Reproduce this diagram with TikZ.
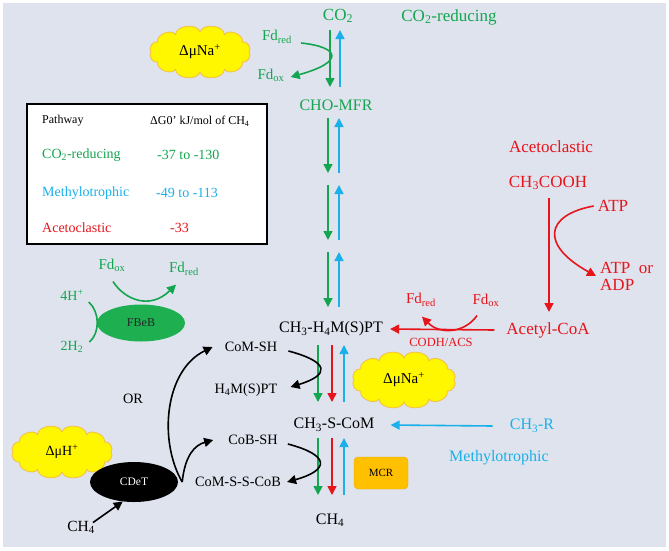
\documentclass[tikz,border=0pt]{standalone}
\usepackage{fontspec}
\setmainfont{Liberation Serif}
\usetikzlibrary{arrows.meta,shapes.geometric}
\definecolor{bgc}{HTML}{DFE3ED}
\definecolor{cg}{HTML}{14A550}
\definecolor{cb}{HTML}{1AB0EA}
\definecolor{cr}{HTML}{E8141B}
\definecolor{cyel}{HTML}{FFF700}
\definecolor{cedge}{HTML}{F2BE45}
\definecolor{fbg}{HTML}{1DAF50}
\definecolor{mcrc}{HTML}{FFC000}
\newcommand\fsz[1]{\fontsize{#1}{#1}\selectfont}
% cloud outline: centre x, centre y, half width, half height, puffs
\newcommand\mycloud[5]{%
  \filldraw[cloudfill] ({#1+#3},{#2})
    \foreach \k in {1,...,#5}{ to[bend left=80] ({#1+#3*cos(360*\k/#5)},{#2+#4*sin(360*\k/#5)}) } -- cycle;}
\begin{document}
\begin{tikzpicture}[x=1pt,y=-1pt,
  lbl/.style={inner sep=0pt},
  tip/.style={-{Triangle[length=9pt,width=9pt]}},
  ln/.style={line width=1.6pt},
  garr/.style={ln,tip,cg},
  barr/.style={ln,tip,cb},
  rarr/.style={ln,tip,cr},
  karr/.style={ln,tip,black},
  cloudfill/.style={fill=cyel, draw=cedge, line width=0.8pt}]
\useasboundingbox (0,0) rectangle (669,550);
\fill[white] (0,0) rectangle (669,550);
\fill[bgc] (3,3) rectangle (666,547);

% ---- top: CO2
\node[lbl,cg,font=\fsz{17}] (co2) at (338,16) {CO\textsubscript{2}};
\node[lbl,cg,font=\fsz{17}] (co2r) at (449,17) {CO\textsubscript{2}-reducing};
\mycloud{200}{52}{49}{20}{12}
\node[lbl,font=\fsz{15}] (na1) at (200,52) {ΔμNa\textsuperscript{+}};
\node[lbl,cg,font=\fsz{15}] (fdr1) at (277,37) {Fd\textsubscript{red}};
\node[lbl,cg,font=\fsz{15}] (fdo1) at (271,75) {Fd\textsubscript{ox}};
\node[lbl,cg,font=\fsz{16}] (cho) at (336,105) {CHO-MFR};

\coordinate (ga0) at (330,30); \coordinate (gb0) at (330,87);
\coordinate (ba0) at (340,87); \coordinate (bb0) at (340,30);
\draw[garr] (ga0) -- (gb0);
\draw[barr] (ba0) -- (bb0);
\draw[ln,tip,cg] ([shift={(9,6)}]fdr1.east) .. controls (340,47) and (345,62) .. ([shift={(6,2)}]fdo1.east);

\foreach \i/\ya/\yb in {1/118/173,2/185/240,3/252/307}{
  \coordinate (ga\i) at (328,\ya); \coordinate (gb\i) at (328,\yb);
  \coordinate (ba\i) at (339,\yb); \coordinate (bb\i) at (339,\ya);
  \draw[garr] (ga\i) -- (gb\i);
  \draw[barr] (ba\i) -- (bb\i);
}

% ---- table
\node[draw=black, line width=1.2pt, fill=white, minimum width=240pt, minimum height=140pt, inner sep=0pt] (tbl) at (147,174) {};
\node[lbl,anchor=west,font=\fsz{12}] (th1) at (42,121) {Pathway};
\node[lbl,anchor=west,font=\fsz{12}] (th2) at (150,121) {ΔG0’ kJ/mol of CH\textsubscript{4}};
\node[lbl,anchor=west,cg,font=\fsz{14}] (t11) at (42,155) {CO\textsubscript{2}-reducing};
\node[lbl,anchor=west,cg,font=\fsz{14}] (t12) at (157,155) {-37 to -130};
\node[lbl,anchor=west,cb,font=\fsz{14}] (t21) at (42,193) {Methylotrophic};
\node[lbl,anchor=west,cb,font=\fsz{14}] (t22) at (156,193) {-49 to -113};
\node[lbl,anchor=west,cr,font=\fsz{14}] (t31) at (42,228) {Acetoclastic};
\node[lbl,anchor=west,cr,font=\fsz{14}] (t32) at (170,228) {-33};

% ---- FBeB
\node[ellipse, fill=fbg, minimum width=88pt, minimum height=37pt, inner sep=0pt, font=\fsz{12}, text=black!85] (fbeb) at (141,323) {FBeB};
\node[lbl,cg,font=\fsz{14}] (h4) at (72,295) {4H\textsuperscript{+}};
\node[lbl,cg,font=\fsz{14}] (h2) at (72,347) {2H\textsubscript{2}};
\node[lbl,cg,font=\fsz{15}] (fdo2) at (112,265) {Fd\textsubscript{ox}};
\node[lbl,cg,font=\fsz{15}] (fdr2) at (184,269) {Fd\textsubscript{red}};
\draw[ln,cg] ([shift={(5,7)}]h4.east) .. controls (100,312) and (100,333) .. ([shift={(6,-5)}]h2.east);
\draw[ln,tip,cg] ([shift={(1,10)}]fdo2.south) .. controls (125,300) and (150,310) .. ([shift={(-8,9)}]fdr2.south);

% ---- acetoclastic
\node[lbl,cr,font=\fsz{17}] (acl) at (551,147) {Acetoclastic};
\node[lbl,cr,font=\fsz{17}] (ach) at (548,183) {CH\textsubscript{3}COOH};
\node[lbl,cr,font=\fsz{17}] (atp) at (613,206) {ATP};
\node[lbl,cr,font=\fsz{17},anchor=west,align=left] (adp) at (600,276) {\fontsize{17}{19}\selectfont ATP\ \ or\\ADP};
\node[lbl,cr,font=\fsz{17}] (acoa) at (548,330) {Acetyl-CoA};
\node[lbl,cr,font=\fsz{15}] (fdr3) at (421,300) {Fd\textsubscript{red}};
\node[lbl,cr,font=\fsz{15}] (fdo3) at (486,300) {Fd\textsubscript{ox}};
\node[lbl,cr,font=\fsz{12.5}] (codh) at (441,342) {CODH/ACS};
\coordinate (ra) at (549,198); \coordinate (rb) at (549,312);
\draw[rarr] (ra) -- (rb);
\draw[ln,tip,cr] ([xshift=-4pt]atp.west) .. controls (545,215) and (540,245) .. ([xshift=-4pt]adp.west);

% ---- main chain
\node[lbl,font=\fsz{16}] (mpt) at (331,329) {CH\textsubscript{3}-H\textsubscript{4}M(S)PT};
\node[lbl,font=\fsz{16}] (csc) at (334,425) {CH\textsubscript{3}-S-CoM};
\node[lbl,font=\fsz{16}] (ch4) at (330,520) {CH\textsubscript{4}};
\draw[rarr] ([xshift=-12pt]acoa.west) -- ([xshift=7pt]mpt.east);
\draw[ln,tip,cr] ([shift={(-9,9)}]fdo3.south) .. controls (465,333) and (440,335) .. ([shift={(1,10)}]fdr3.south);

\foreach \i/\ya/\yb in {4/345/402,5/438/495}{
  \coordinate (ga\i) at (318,\ya); \coordinate (gb\i) at (318,\yb);
  \coordinate (ra\i) at (332,\ya); \coordinate (rb\i) at (332,\yb);
  \coordinate (ba\i) at (344,\yb); \coordinate (bb\i) at (344,\ya);
  \draw[garr] (ga\i) -- (gb\i);
  \draw[rarr] (ra\i) -- (rb\i);
  \draw[barr] (ba\i) -- (bb\i);
}
\mycloud{404}{380}{50}{22}{12}
\node[lbl,font=\fsz{15}] (na2) at (404,380) {ΔμNa\textsuperscript{+}};
\node[rectangle, rounded corners=4pt, fill=mcrc, draw=mcrc!90!black, line width=0.4pt, minimum width=54pt, minimum height=32pt, inner sep=0pt, font=\fsz{11}] (mcr) at (381,473) {MCR};

% ---- methylotrophic
\node[lbl,cb,font=\fsz{16}] (ch3r) at (532,426) {CH\textsubscript{3}-R};
\node[lbl,cb,font=\fsz{16}] (mety) at (499,458) {Methylotrophic};
\draw[barr] ([xshift=-17pt]ch3r.west) -- ([xshift=16pt]csc.east);

% ---- CoM / CoB
\node[lbl,font=\fsz{14.3}] (comsh) at (251,347) {CoM-SH};
\node[lbl,font=\fsz{14.3}] (h4m) at (246,390) {H\textsubscript{4}M(S)PT};
\node[lbl,font=\fsz{14.3}] (cobsh) at (253,440) {CoB-SH};
\node[lbl,font=\fsz{14.3}] (cmsc) at (238,482) {CoM-S-S-CoB};
\node[lbl,font=\fsz{14.3}] (or) at (133,399) {OR};
\draw[karr] ([shift={(11,4)}]comsh.east) .. controls (330,362) and (330,375) .. ([shift={(13,-3)}]h4m.east);
\draw[karr] ([shift={(10,4)}]cobsh.east) .. controls (330,455) and (330,470) .. ([shift={(6,0)}]cmsc.east);

% ---- CDeT
\mycloud{62}{452}{49}{20}{12}
\node[lbl,font=\fsz{14}] (hp) at (62,452) {ΔμH\textsuperscript{+}};
\node[ellipse, fill=black, minimum width=88pt, minimum height=40pt, inner sep=0pt, font=\fsz{11.5}, text=white] (cdet) at (134,482) {CDeT};
\node[lbl,font=\fsz{15.5}] (ch4b) at (81,527) {CH\textsubscript{4}};
\draw[karr] ([shift={(-2,2)}]ch4b.north east) -- (cdet.240);
\draw[karr] ([xshift=4pt]cdet.east) .. controls (158,440) and (165,370) .. ([xshift=-12pt]comsh.west);
\draw[karr] ([xshift=4pt]cdet.east) .. controls (185,455) and (195,445) .. ([xshift=-15pt]cobsh.west);
\end{tikzpicture}
\end{document}
